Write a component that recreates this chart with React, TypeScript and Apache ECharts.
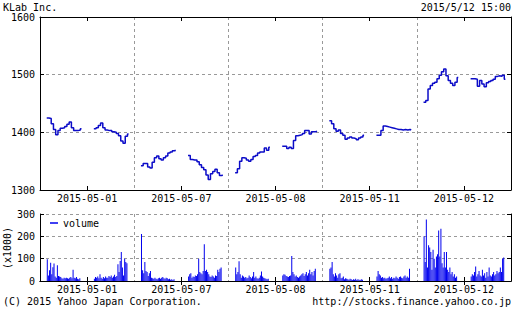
import React, { useEffect, useRef } from 'react';
import * as echarts from 'echarts';

const FONT = '"DejaVu Sans Mono", "Liberation Mono", monospace';

const days = ['2015-05-01', '2015-05-07', '2015-05-08', '2015-05-11', '2015-05-12'];

// Price, one point every 10 minutes: morning 9:00-11:30, afternoon 12:30-15:00
const priceAM0501 = [1425, 1424, 1415, 1405, 1396, 1403, 1407, 1408, 1410, 1414, 1418, 1408, 1403, 1403, 1404, 1406];
const pricePM0501 = [1406, 1408, 1412, 1416, 1408, 1404, 1403, 1403, 1401, 1400, 1398, 1394, 1385, 1381, 1393, 1397];
const priceAM0507 = [1342, 1346, 1346, 1340, 1338, 1348, 1356, 1359, 1354, 1352, 1356, 1359, 1364, 1366, 1368, 1369];
const pricePM0507 = [1360, 1353, 1352, 1352, 1349, 1344, 1339, 1335, 1326, 1318, 1328, 1332, 1336, 1330, 1325, 1326];
const priceAM0508 = [1330, 1337, 1350, 1356, 1355, 1352, 1350, 1353, 1358, 1360, 1364, 1366, 1366, 1373, 1369, 1374];
const pricePM0508 = [1376, 1376, 1372, 1374, 1372, 1386, 1394, 1395, 1396, 1398, 1403, 1403, 1397, 1401, 1401, 1402];
const priceAM0511 = [1420, 1415, 1406, 1402, 1404, 1398, 1395, 1388, 1390, 1392, 1390, 1389, 1387, 1390, 1392, 1395];
const pricePM0511 = [1395, 1395, 1403, 1411, 1410, 1409, 1408, 1407, 1406, 1405, 1405, 1404, 1405, 1404, 1405, 1404];
const priceAM0512 = [1452, 1455, 1475, 1481, 1485, 1487, 1493, 1499, 1505, 1510, 1498, 1490, 1485, 1481, 1487, 1495];
const pricePM0512 = [1493, 1493, 1492, 1480, 1490, 1484, 1479, 1486, 1488, 1490, 1492, 1497, 1498, 1497, 1499, 1492];

// Volume (x1000), one bar every 5 minutes
const volAM0501 = [97, 25, 48, 82, 30, 62, 78, 20, 15, 70, 22, 20, 18, 12, 10, 14, 12, 15, 12, 10, 14, 18, 12, 50, 15, 12, 18, 10, 8, 12];
const volPM0501 = [10, 18, 14, 20, 12, 30, 15, 10, 18, 12, 20, 15, 14, 22, 18, 25, 15, 20, 28, 18, 22, 75, 40, 90, 130, 60, 25, 100, 85, 80];
const volAM0507 = [210, 48, 35, 85, 45, 40, 22, 35, 45, 15, 12, 10, 14, 10, 8, 12, 15, 10, 14, 18, 12, 10, 15, 12, 8, 10, 6, 8, 5, 8];
const volPM0507 = [20, 30, 35, 15, 20, 18, 25, 22, 30, 100, 40, 35, 30, 45, 165, 45, 50, 40, 30, 20, 18, 25, 20, 15, 25, 22, 50, 40, 55, 60];
const volAM0508 = [60, 30, 40, 88, 30, 15, 25, 20, 15, 18, 12, 15, 25, 18, 12, 20, 40, 15, 20, 12, 10, 15, 25, 42, 20, 15, 12, 10, 8, 10];
const volPM0508 = [25, 30, 28, 22, 20, 18, 22, 25, 112, 40, 30, 20, 25, 18, 15, 20, 25, 30, 35, 22, 30, 40, 25, 35, 50, 30, 40, 25, 45, 55];
const volAM0511 = [55, 60, 85, 30, 20, 35, 25, 15, 30, 35, 12, 15, 20, 8, 12, 10, 8, 6, 10, 8, 5, 8, 6, 10, 5, 8, 6, 5, 8, 6];
const volPM0511 = [20, 45, 30, 25, 15, 18, 12, 15, 10, 12, 15, 20, 12, 18, 10, 15, 12, 20, 15, 10, 18, 20, 15, 12, 20, 25, 15, 20, 15, 55];
const volAM0512 = [200, 85, 275, 60, 160, 150, 130, 50, 140, 100, 60, 110, 120, 226, 110, 234, 80, 60, 130, 60, 130, 50, 40, 60, 30, 40, 20, 30, 15, 20];
const volPM0512 = [20, 30, 25, 40, 65, 20, 30, 45, 25, 20, 50, 25, 35, 15, 40, 20, 60, 25, 20, 30, 40, 25, 30, 45, 35, 40, 60, 40, 100, 105];

const priceSessions = [
  [priceAM0501, pricePM0501],
  [priceAM0507, pricePM0507],
  [priceAM0508, pricePM0508],
  [priceAM0511, pricePM0511],
  [priceAM0512, pricePM0512],
];
const volSessions = [
  [volAM0501, volPM0501],
  [volAM0507, volPM0507],
  [volAM0508, volPM0508],
  [volAM0511, volPM0511],
  [volAM0512, volPM0512],
];

// time slots of 5 minutes, 8:30 - 15:30 per day
const SLOTS = 84;
const SESSION_START = [6, 48];

function buildLine() {
  const out: any[] = [];
  priceSessions.forEach((sessions, d) => {
    sessions.forEach((vals, s) => {
      const base = d * SLOTS + SESSION_START[s];
      vals.forEach((v, k) => out.push([base + 2 * k, v]));
      out.push([base + 31, null]);
    });
  });
  return out;
}
function buildBars() {
  const out: any[] = [];
  volSessions.forEach((sessions, d) => {
    sessions.forEach((vals, s) => {
      const base = d * SLOTS + SESSION_START[s];
      vals.forEach((v, k) => out.push([base + k + 0.5, v]));
    });
  });
  return out;
}

const txt = { fontFamily: FONT, fontSize: 10, color: '#000' };
const dash = { color: '#999', type: [3, 3] as any, width: 1 };
const blackLine = { show: true, lineStyle: { color: '#000', width: 1 } };
const inTick = { show: true, inside: true, length: 4, alignWithLabel: true, lineStyle: { color: '#000' } };
const plain = (v: number) => String(v);

function gridAxes(g: number, yMin: number, yMax: number) {
  const xs = [
    {
      type: 'category', gridIndex: g, data: days, position: 'bottom', boundaryGap: true, z: 2,
      axisLine: blackLine, axisTick: inTick,
      axisLabel: { ...txt, margin: 3, interval: 0 }, splitLine: { show: false },
    },
    {
      type: 'category', gridIndex: g, data: days, position: 'top', boundaryGap: true, z: 2,
      axisLine: blackLine, axisTick: inTick, axisLabel: { show: false }, splitLine: { show: false },
    },
    {
      type: 'value', gridIndex: g, min: 0, max: SLOTS * 5, interval: SLOTS, z: 1,
      axisLine: { show: false }, axisTick: { show: false }, axisLabel: { show: false },
      splitLine: { show: true, lineStyle: dash },
    },
  ];
  const ys = [
    {
      type: 'value', gridIndex: g, position: 'left', min: yMin, max: yMax, interval: 100, z: 2,
      axisLine: blackLine, axisTick: { show: true, inside: true, length: 4, lineStyle: { color: '#000' } },
      axisLabel: { ...txt, margin: 5, formatter: plain }, splitLine: { show: false },
    },
    {
      type: 'value', gridIndex: g, position: 'right', min: yMin, max: yMax, interval: 100, z: 2,
      axisLine: blackLine, axisTick: { show: true, inside: true, length: 4, lineStyle: { color: '#000' } },
      axisLabel: { show: false }, splitLine: { show: false },
    },
    {
      type: 'value', gridIndex: g, min: yMin, max: yMax, interval: 100, z: 1,
      axisLine: { show: false }, axisTick: { show: false }, axisLabel: { show: false },
      splitLine: { show: true, lineStyle: dash },
    },
  ];
  return { xs, ys };
}

function txtG() {
  return { font: `10px ${FONT}`, fill: '#000' };
}

export default function App() {
  const ref = useRef<HTMLDivElement>(null);
  useEffect(() => {
    if (!ref.current) return;
    const chart = echarts.init(ref.current, null, { renderer: 'svg' });
    const a = gridAxes(0, 1300, 1600);
    const b = gridAxes(1, 0, 300);
    chart.setOption({
      animation: false,
      backgroundColor: '#fff',
      textStyle: { fontFamily: FONT },
      grid: [
        { left: 40, right: 1, top: 17, height: 173 },
        { left: 40, right: 1, top: 214, height: 67 },
      ],
      xAxis: [...a.xs, ...b.xs],
      yAxis: [...a.ys, ...b.ys],
      legend: {
        data: ['volume'], left: 50, top: 218, padding: 0,
        icon: 'rect', itemWidth: 8, itemHeight: 1.5,
        textStyle: txt,
      },
      graphic: [
        { type: 'text', x: 3, y: 7, style: { text: 'KLab Inc.', ...txtG(), textAlign: 'left', textVerticalAlign: 'middle' } },
        { type: 'text', x: 511, y: 7, style: { text: '2015/5/12 15:00', ...txtG(), textAlign: 'right', textVerticalAlign: 'middle' } },
        { type: 'text', x: 3, y: 301, style: { text: '(C) 2015 Yahoo Japan Corporation.', ...txtG(), textAlign: 'left', textVerticalAlign: 'middle' } },
        { type: 'text', x: 511, y: 301, style: { text: 'http://stocks.finance.yahoo.co.jp', ...txtG(), textAlign: 'right', textVerticalAlign: 'middle' } },
        { type: 'text', x: 7, y: 248, rotation: Math.PI / 2, style: { text: '(x1000)', ...txtG(), textAlign: 'center', textVerticalAlign: 'middle' } },
      ],
      series: [
        {
          name: 'price', type: 'line', xAxisIndex: 2, yAxisIndex: 0, data: buildLine(),
          symbol: 'none', showSymbol: false, connectNulls: false, step: 'end',
          lineStyle: { color: '#0c0cc8', width: 1.5 },
        },
        {
          name: 'volume', type: 'bar', xAxisIndex: 5, yAxisIndex: 3, data: buildBars(),
          barWidth: 1, itemStyle: { color: '#0000ee' },
        },
      ],
    });
    return () => chart.dispose();
  }, []);
  return <div ref={ref} style={{ position: 'fixed', left: 0, top: 0, width: 512, height: 310 }} />;
}
